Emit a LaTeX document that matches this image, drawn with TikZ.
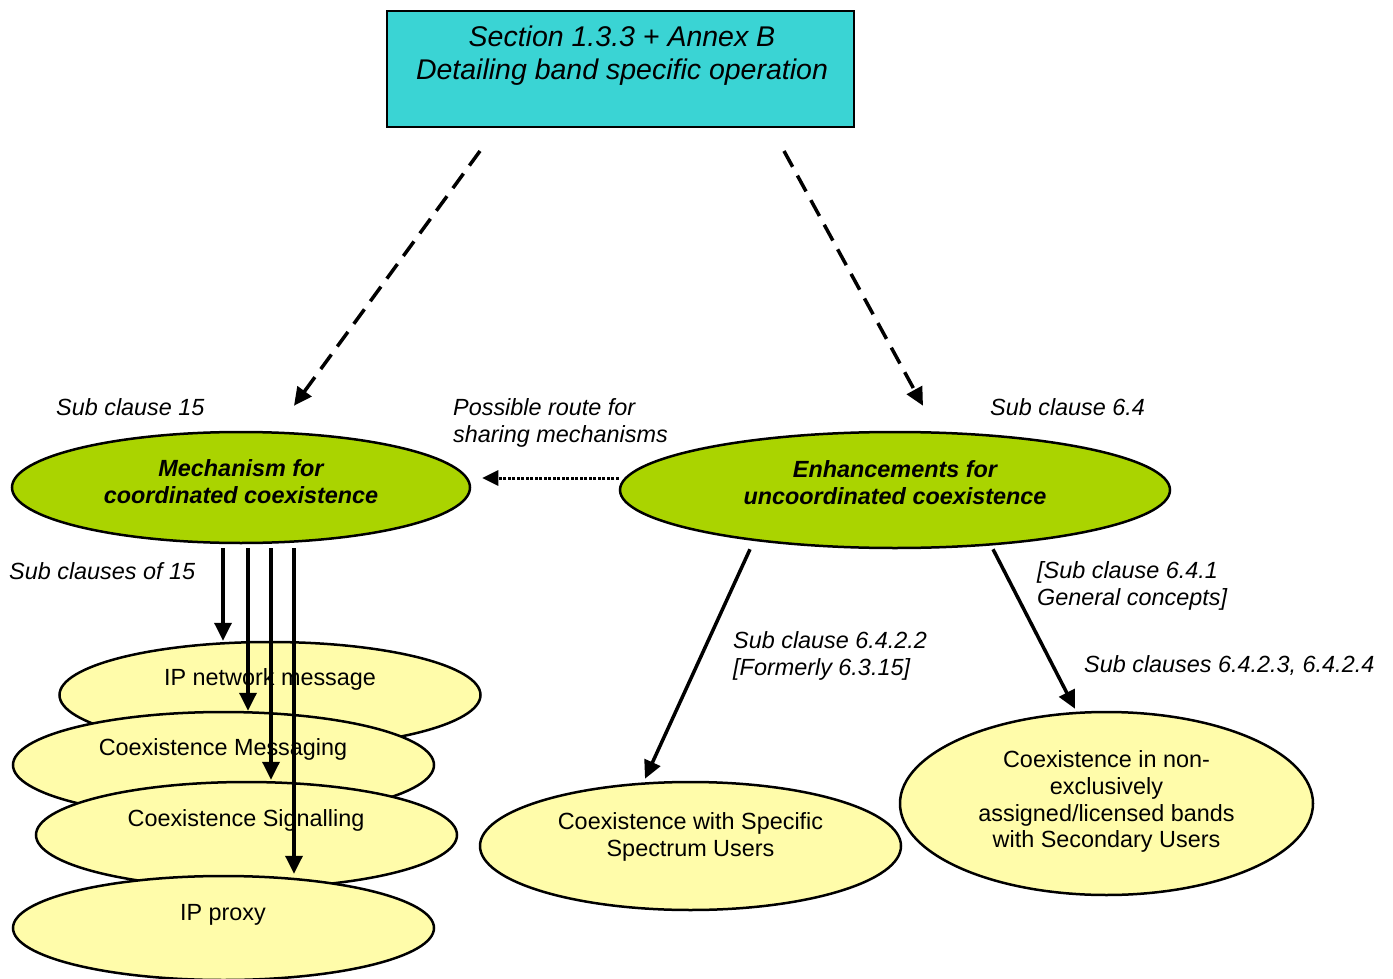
\documentclass[tikz,border=0pt]{standalone}
\usepackage{fontspec}
\setmainfont{Liberation Sans}
\usetikzlibrary{shapes.geometric,arrows.meta}
\definecolor{boxcyan}{RGB}{58,212,212}
\definecolor{lgreen}{RGB}{170,212,0}
\definecolor{lyellow}{RGB}{255,252,170}
\tikzset{
  ell/.style={ellipse,draw=black,line width=2.5pt,inner sep=0pt},
  greenell/.style={ell,fill=lgreen},
  yell/.style={ell,fill=lyellow},
  txt/.style={inner sep=0pt,font=\fontsize{23.4}{27}\selectfont},
  itxt/.style={txt,font=\fontsize{23.4}{27}\selectfont\itshape},
  arr/.style={line width=3.5pt,-{Triangle[length=18pt,width=17pt]}},
  dasharr/.style={arr,dash pattern=on 18pt off 10pt},
  dotarr/.style={line width=3pt,dash pattern=on 3pt off 1.5pt,-{Triangle[length=16pt,width=15pt]}}
}
\begin{document}
\begin{tikzpicture}[x={(1pt,0pt)},y={(0pt,-1pt)}]
\useasboundingbox (0,0) rectangle (1393,979);
% top box
\node[draw=black,line width=2pt,fill=boxcyan,minimum width=467pt,minimum height=116pt,inner sep=0pt] (box) at (620.5,69) {};
\node[txt,anchor=north,align=center,font=\fontsize{28.5}{33}\selectfont\itshape] (boxt) at (622,26) {Section 1.3.3 + Annex B\\Detailing band specific operation};
% green ellipses
\node[greenell,minimum width=458pt,minimum height=111pt] (mech) at (241,487.5) {};
\node[txt,anchor=north,align=center,font=\fontsize{23.4}{27}\selectfont\bfseries\itshape] (mecht) at (241,459.6) {Mechanism for\\coordinated coexistence};
\node[greenell,minimum width=550pt,minimum height=116pt] (enh) at (895,490) {};
\node[txt,anchor=north,align=center,font=\fontsize{23.4}{27}\selectfont\bfseries\itshape] (enht) at (895,460.6) {Enhancements for\\uncoordinated coexistence};
% dashed arrows
\draw[dasharr] ([xshift=94pt,yshift=-23pt]box.south west) -- ([xshift=53pt,yshift=25pt]mech.north);
\draw[dasharr] ([xshift=-71pt,yshift=-23pt]box.south east) -- ([xshift=28pt,yshift=25pt]enh.north);
% dotted arrow
\draw[dotarr] ([yshift=12pt]enh.west) -- ([xshift=11pt,yshift=9.5pt]mech.east);
% stacked ellipses
\node[yell,minimum width=421pt,minimum height=106pt] (ipnet) at (270,695) {};
\node[txt,anchor=base] (ipnett) at (270,685.4) {IP network message};
\node[yell,minimum width=421pt,minimum height=106pt] (msg) at (223.5,765) {};
\node[txt,anchor=base] (msgt) at (223,755.4) {Coexistence Messaging};
\node[yell,minimum width=421pt,minimum height=106pt] (sig) at (246.5,835) {};
\node[txt,anchor=base] (sigt) at (246,826.4) {Coexistence Signalling};
\node[yell,minimum width=421pt,minimum height=104pt] (proxy) at (223.5,928) {};
\node[txt,anchor=base] (proxyt) at (223,920.4) {IP proxy};
% right lower ellipses
\node[yell,minimum width=421pt,minimum height=128pt] (spec) at (690.5,846) {};
\node[txt,anchor=north,align=center] (spect) at (690.5,812.6) {Coexistence with Specific\\Spectrum Users};
\node[yell,minimum width=413pt,minimum height=183pt] (secu) at (1106.5,803.5) {};
\node[txt,anchor=north,align=center,font=\fontsize{23.4}{26.7}\selectfont] (secut) at (1106.5,750.6) {Coexistence in non-\\exclusively\\assigned/licensed bands\\with Secondary Users};
% stacked arrows
\draw[arr] ([xshift=-18pt,yshift=-4pt]mech.south) -- ([xshift=-47pt]ipnet.north);
\draw[arr] ([xshift=7pt,yshift=-4pt]mech.south) -- ([xshift=24.5pt]msg.north);
\draw[arr] ([xshift=30pt,yshift=-4pt]mech.south) -- ([xshift=24.5pt,yshift=1pt]sig.north);
\draw[arr] ([xshift=53pt,yshift=-4pt]mech.south) -- ([xshift=70.5pt,yshift=1pt]proxy.north);
% right arrows
\draw[arr] ([xshift=-145pt]enh.south) -- ([xshift=-45.5pt,yshift=2pt]spec.north);
\draw[arr] ([xshift=98pt]enh.south) -- ([xshift=-31.5pt,yshift=2pt]secu.north);
% labels
\node[itxt,anchor=base west] (l15) at (56,415.4) {Sub clause 15};
\node[itxt,anchor=base west] (l64) at (990,415.4) {Sub clause 6.4};
\node[itxt,anchor=north west,align=left] (lroute) at (453,398.6) {Possible route for\\sharing mechanisms};
\node[itxt,anchor=base west] (lof15) at (9,579.4) {Sub clauses of 15};
\node[itxt,anchor=north west,align=left] (l6422) at (733,631.6) {Sub clause 6.4.2.2\\{}[Formerly 6.3.15]};
\node[itxt,anchor=north west,align=left] (l641) at (1037,561.6) {[Sub clause 6.4.1\\General concepts]};
\node[itxt,anchor=base west] (l6423) at (1084,672.4) {Sub clauses 6.4.2.3, 6.4.2.4};
\end{tikzpicture}
\end{document}
